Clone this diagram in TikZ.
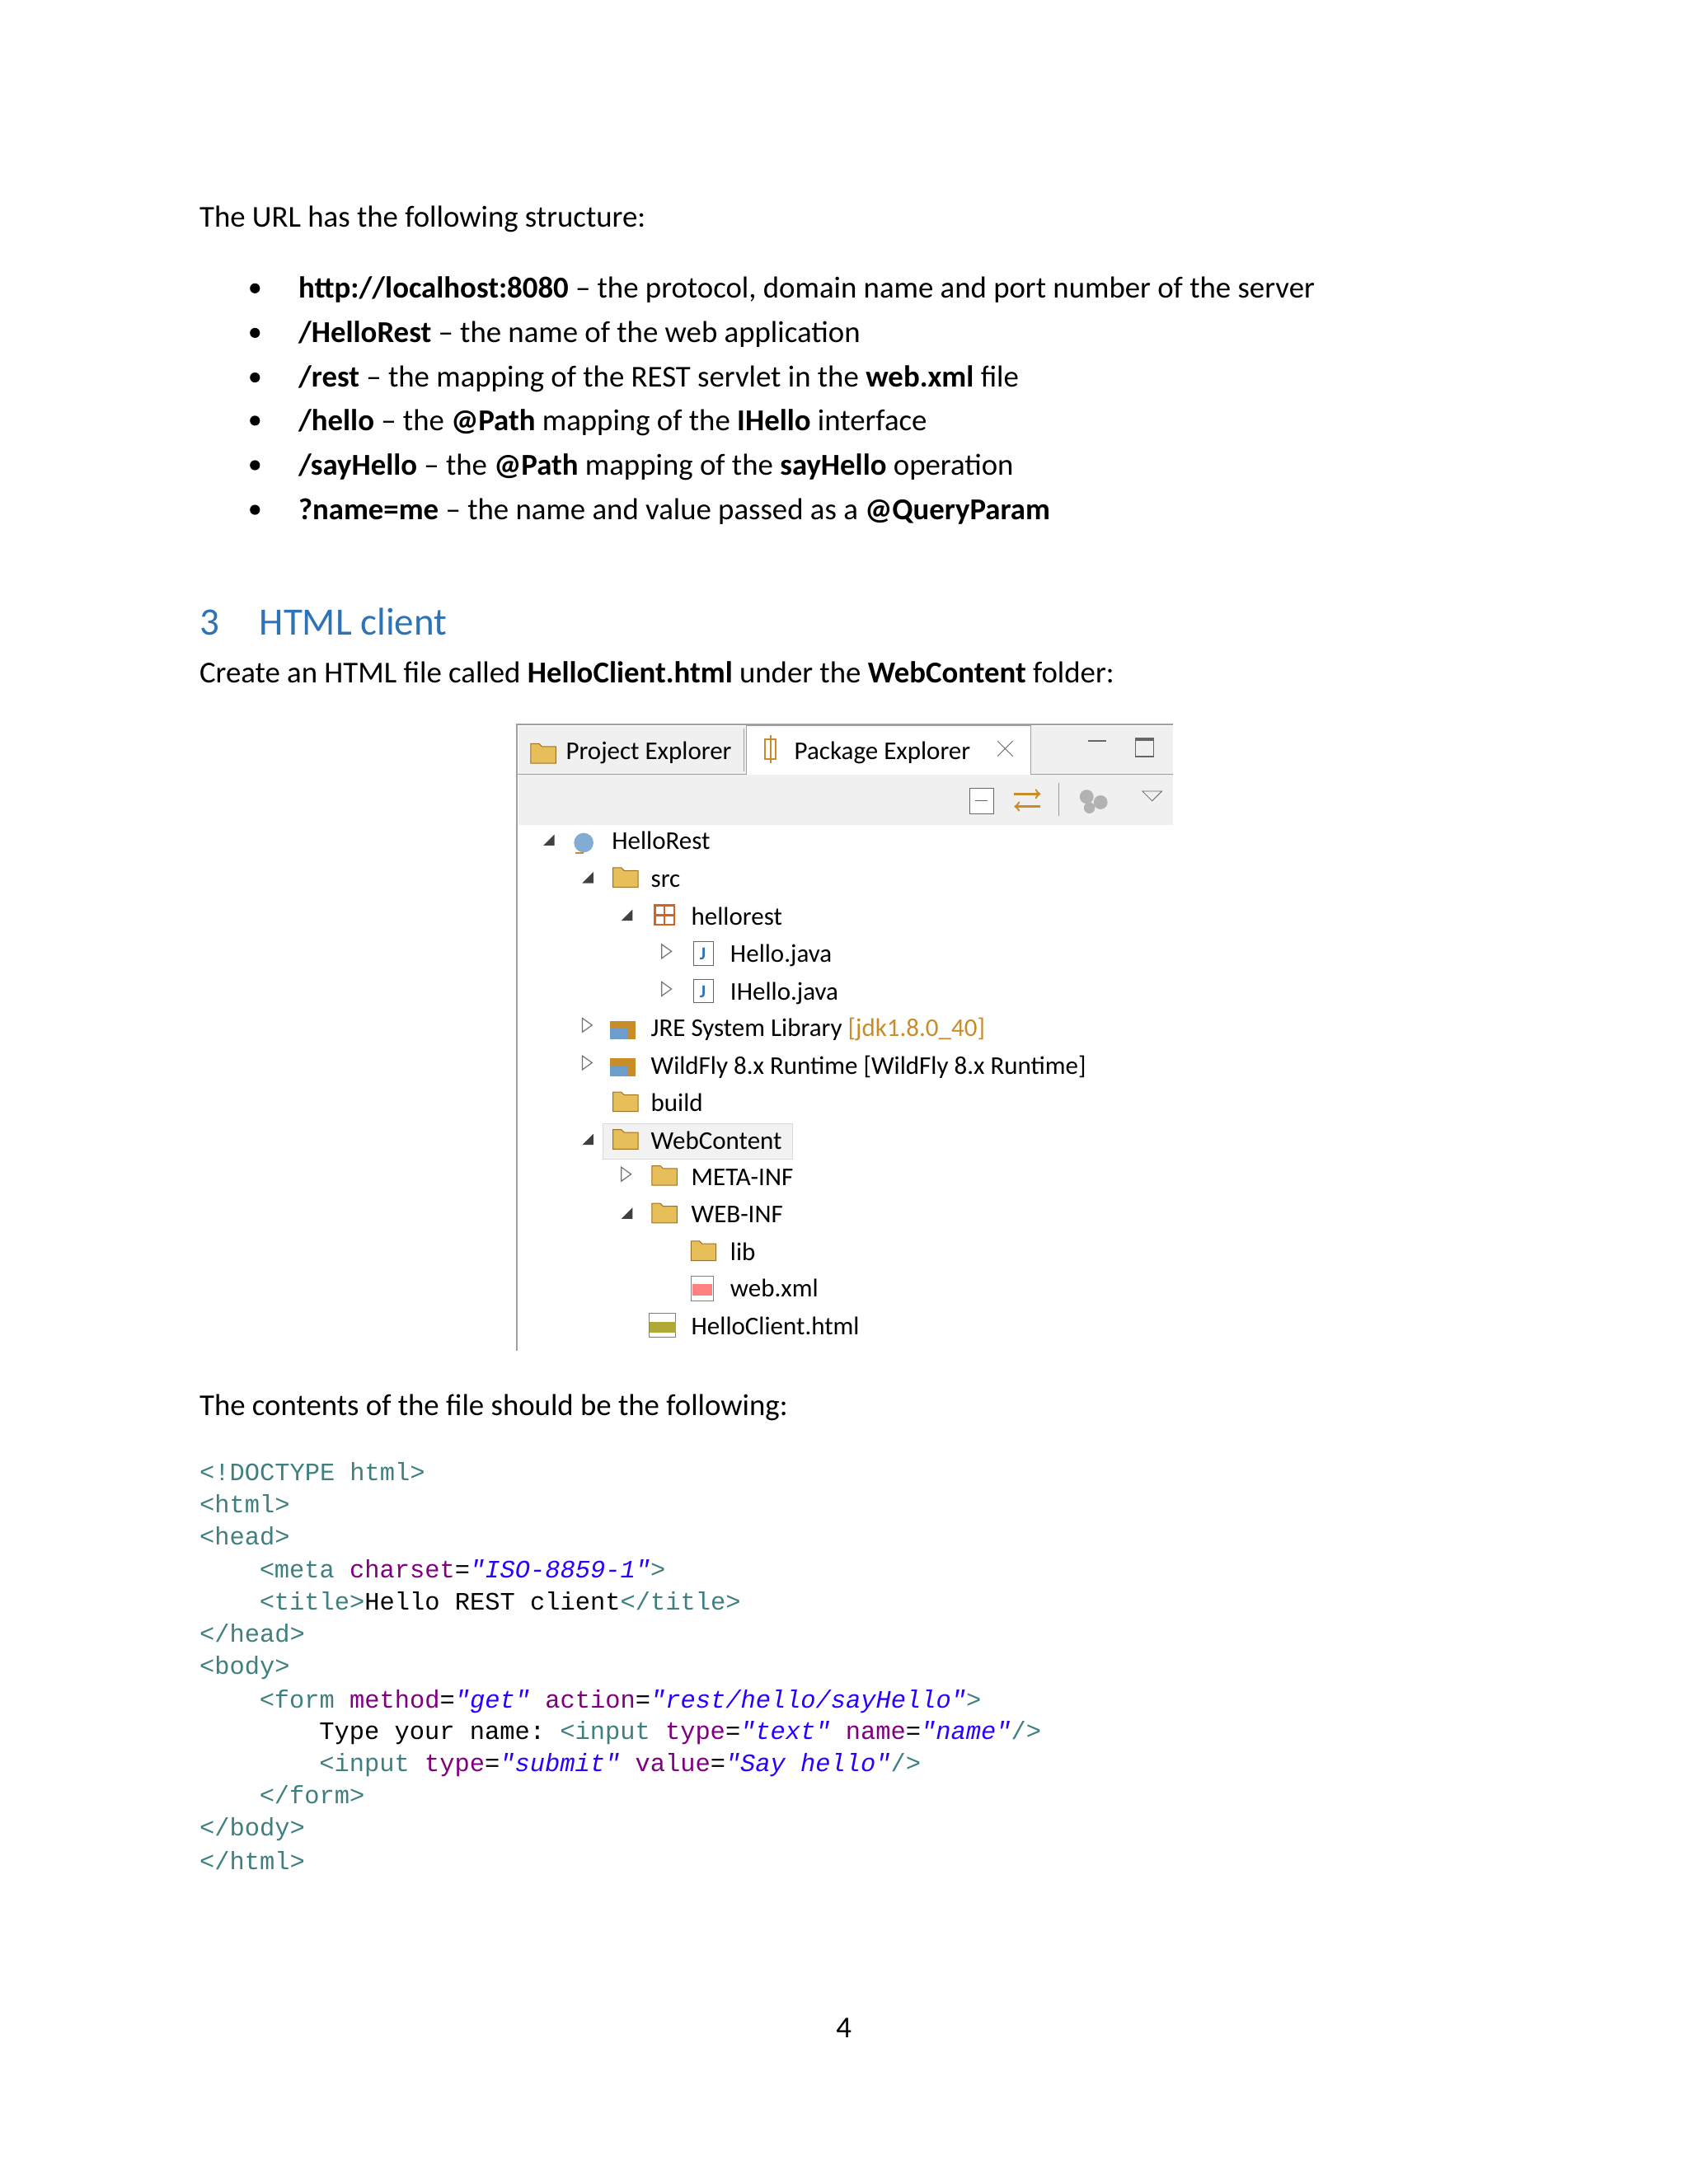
\documentclass[tikz,border=0pt]{standalone}
\usepackage{fontspec}
\setmainfont{Carlito}
\setmonofont{Liberation Mono}
\newfontfamily\uifont{Carlito}
\definecolor{headblue}{RGB}{46,116,181}
\definecolor{tagc}{RGB}{63,127,127}
\definecolor{attc}{RGB}{127,0,127}
\definecolor{valc}{RGB}{42,0,255}
\definecolor{frame}{RGB}{160,160,160}
\definecolor{tbg}{RGB}{240,240,240}
\definecolor{folder}{RGB}{230,190,90}
\definecolor{libc}{RGB}{200,140,40}
\tikzset{
 txt/.style={anchor=base west,inner sep=0pt,font=\fontsize{18.4}{22}\selectfont},
 ui/.style={anchor=base west,inner sep=0pt,font=\uifont\fontsize{15.5}{18}\selectfont},
 cd/.style={anchor=base west,inner sep=0pt,font=\ttfamily\fontsize{15.2}{18}\selectfont},
 exp/.style={fill=black!75},
 col/.style={draw=black!55,line width=0.6pt},
 fold/.style={draw=libc!80!black,fill=folder,line width=0.5pt}
}
\newcommand{\tg}[1]{\textcolor{tagc}{#1}}
\newcommand{\at}[1]{\textcolor{attc}{#1}}
\newcommand{\vl}[1]{\textcolor{valc}{\textit{#1}}}
\newcommand{\expd}[2]{\fill[exp] (#1+5,#2-11)--(#1+5,#2-3)--(#1-3,#2-3)--cycle;}
\newcommand{\coll}[2]{\draw[col] (#1-3,#2-13)--(#1+4,#2-8)--(#1-3,#2-3)--cycle;}
\newcommand{\fld}[2]{\draw[fold] (#1-9,#2-14)--(#1-3,#2-14)--(#1-1,#2-12)--(#1+9,#2-12)--(#1+9,#2)--(#1-9,#2)--cycle;}
\begin{document}
\begin{tikzpicture}[x=0.845pt,y=-0.845pt]
\useasboundingbox (0,0) rectangle (1212,1568);
\node[txt] (t1) at (143,163) {The URL has the following structure:};
\foreach \yy/\tt [count=\i] in {214/{\textbf{http://localhost:8080} – the protocol, domain name and port number of the server},
 246/{\textbf{/HelloRest} – the name of the web application},
 278/{\textbf{/rest} – the mapping of the REST servlet in the \textbf{web.xml} file},
 309/{\textbf{/hello} – the \textbf{@Path} mapping of the \textbf{IHello} interface},
 341/{\textbf{/sayHello} – the \textbf{@Path} mapping of the \textbf{sayHello} operation},
 373/{\textbf{?name=me} – the name and value passed as a \textbf{@QueryParam}}}{
 \fill (183,\yy-7) circle (3.6);
 \node[txt] (b\i) at (214,\yy) {\tt};
}
\node[txt,text=headblue,font=\fontsize{23.5}{28}\selectfont] (h3) at (143,456) {3};
\node[txt,text=headblue,font=\fontsize{23.5}{28}\selectfont] (h) at (186,456) {HTML client};
\node[txt] (t2) at (143,490) {Create an HTML file called \textbf{HelloClient.html} under the \textbf{WebContent} folder:};
% screenshot
\draw[frame,line width=0.8pt] (371,970)--(371,520)--(842,520);
\fill[tbg] (372,521) rectangle (842,592);
\fill[white] (536,521) rectangle (740,556);
\draw[frame] (536,556)--(536,521)--(740,521)--(740,556);
\draw[frame] (371,556)--(536,556) (740,556)--(842,556);
\fill[white] (372,592) rectangle (842,970);
\fill[tbg] (376,558) rectangle (842,590);
\fld{390}{548}
\node[ui] (pe) at (406,545) {Project Explorer};
\draw[frame] (534,523)--(534,554);
\draw[libc,line width=1pt] (549,531) rectangle (557,545) (553,528)--(553,548);
\node[ui] (pk) at (570,545) {Package Explorer};
\draw[black!60] (716,532)--(727,543) (716,543)--(727,532);
\draw[black!60,line width=1pt] (781,532)--(794,532);
\draw[black!60,line width=0.8pt] (815,530) rectangle (828,543) (815,531.5)--(828,531.5);
\draw[black!60,fill=white] (696,566) rectangle (713,584); \draw[black!60](700,575)--(709,575);
\draw[libc,line width=1.2pt,->] (728,570)--(747,570); \draw[libc,line width=1.2pt,->] (747,579)--(728,579);
\draw[black!40] (760,562)--(760,586);
\fill[black!30] (780,572) circle (5) (790,576) circle (5) (782,580) circle (4);
\draw[black!60] (820,568)--(834,568)--(827,575)--cycle;
% tree
\expd{393}{610}
\fill[headblue!60] (419,605) circle (7); \fill[libc] (413,613) rectangle (419,612);
\node[ui] (n1) at (439,610) {HelloRest};
\expd{421}{637}
\fld{449}{637}
\node[ui] (n2) at (467,637) {src};
\expd{449}{664}
\draw[libc!70!red,line width=1.2pt] (470,650) rectangle (484,664) (477,650)--(477,664) (470,657)--(484,657);
\node[ui] (n3) at (496,664) {hellorest};
\coll{478}{691} \draw[black!60,fill=white] (498,676) rectangle (512,693); \node[ui,text=headblue,font=\uifont\bfseries\fontsize{11}{12}\selectfont] at (502,689) {J};
\node[ui] (n4) at (524,691) {Hello.java};
\coll{478}{718} \draw[black!60,fill=white] (498,703) rectangle (512,720); \node[ui,text=headblue,font=\uifont\bfseries\fontsize{11}{12}\selectfont] at (502,716) {J};
\node[ui] (n5) at (524,718) {IHello.java};
\coll{421}{744} \fill[libc] (438,733) rectangle (456,746); \fill[headblue!70] (438,738) rectangle (450,746);
\node[ui] (n6) at (467,744) {JRE System Library \textcolor{libc}{[jdk1.8.0\_40]}};
\coll{421}{771} \fill[libc] (438,760) rectangle (456,773); \fill[headblue!70] (438,765) rectangle (450,773);
\node[ui] (n7) at (467,771) {WildFly 8.x Runtime [WildFly 8.x Runtime]};
\fld{449}{798}
\node[ui] (n8) at (467,798) {build};
\fill[black!5] (433,807) rectangle (569,832); \draw[black!15] (433,807) rectangle (569,832);
\expd{421}{825}
\fld{449}{825}
\node[ui] (n9) at (467,825) {WebContent};
\coll{449}{851} \fld{477}{851}
\node[ui] (n10) at (496,851) {META-INF};
\expd{449}{878} \fld{477}{878}
\node[ui] (n11) at (496,878) {WEB-INF};
\fld{505}{905}
\node[ui] (n12) at (524,905) {lib};
\draw[black!50,fill=white] (496,916) rectangle (512,934); \fill[red!50] (497,922) rectangle (511,930);
\node[ui] (n13) at (524,931) {web.xml};
\draw[black!50,fill=white] (466,943) rectangle (485,960); \fill[olive!70] (466,949) rectangle (485,957);
\node[ui] (n14) at (496,958) {HelloClient.html};
\node[txt] (t3) at (143,1016) {The contents of the file should be the following:};
% code
\node[cd] (c1) at (143,1063) {\tg{<!DOCTYPE html>}};
\node[cd] (c2) at (143,1086) {\tg{<html>}};
\node[cd] (c3) at (143,1109) {\tg{<head>}};
\node[cd] (c4) at (186,1133) {\tg{<meta} \at{charset}=\vl{"ISO-8859-1"}\tg{>}};
\node[cd] (c5) at (186,1156) {\tg{<title>}Hello REST client\tg{</title>}};
\node[cd] (c6) at (143,1179) {\tg{</head>}};
\node[cd] (c7) at (143,1202) {\tg{<body>}};
\node[cd] (c8) at (186,1226) {\tg{<form} \at{method}=\vl{"get"} \at{action}=\vl{"rest/hello/sayHello"}\tg{>}};
\node[cd] (c9) at (229,1249) {Type your name: \tg{<input} \at{type}=\vl{"text"} \at{name}=\vl{"name"}\tg{/>}};
\node[cd] (c10) at (229,1272) {\tg{<input} \at{type}=\vl{"submit"} \at{value}=\vl{"Say hello"}\tg{/>}};
\node[cd] (c11) at (186,1295) {\tg{</form>}};
\node[cd] (c12) at (143,1318) {\tg{</body>}};
\node[cd] (c13) at (143,1342) {\tg{</html>}};
\node[txt] (pg) at (600,1463) {4};
\end{tikzpicture}
\end{document}
